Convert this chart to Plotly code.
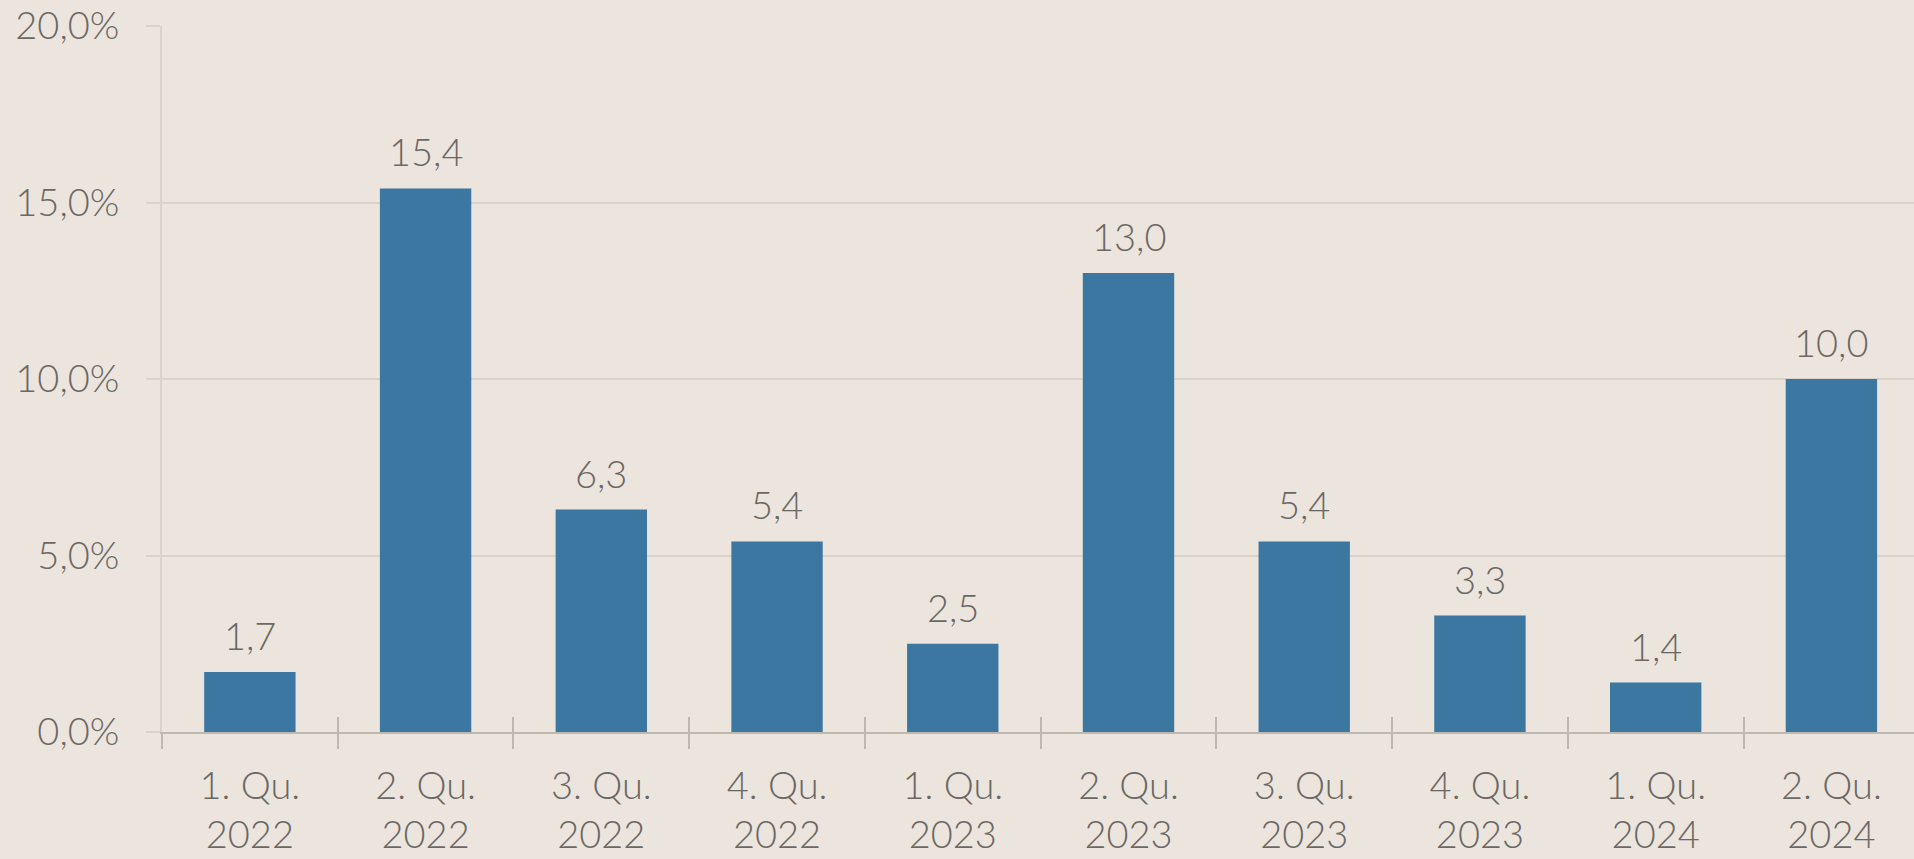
import plotly.graph_objects as go

quarters = ["1. Qu.", "2. Qu.", "3. Qu.", "4. Qu.", "1. Qu.", "2. Qu.", "3. Qu.", "4. Qu.", "1. Qu.", "2. Qu."]
years = ["2022", "2022", "2022", "2022", "2023", "2023", "2023", "2023", "2024", "2024"]
values = [1.7, 15.4, 6.3, 5.4, 2.5, 13.0, 5.4, 3.3, 1.4, 10.0]
y_ticks = [0, 5, 10, 15, 20]
y_tick_labels = ["0,0%", "5,0%", "10,0%", "15,0%", "20,0%"]

categories = [f"{q}<br>{y}" for q, y in zip(quarters, years)]
labels = [f"{v:.1f}".replace(".", ",") for v in values]

BG = "#ebe5de"
BAR = "#3b77a0"
TXT = "#6b6864"
GRID = "#d9d3cc"
AX = "#bdb8b2"
FONT = dict(family="Lato, 'Open Sans', sans-serif", size=38, color=TXT, weight=300)

fig = go.Figure()
fig.add_trace(go.Bar(x=categories, y=values, marker=dict(color=BAR, line=dict(width=0)),
                     showlegend=False, hoverinfo="skip"))
# invisible trace on the overlay axis so its inner tick marks render
fig.add_trace(go.Scatter(x=categories, y=values, xaxis="x2", mode="markers",
                         marker=dict(opacity=0), showlegend=False, hoverinfo="skip"))

for c, v, t in zip(categories, values, labels):
    fig.add_annotation(x=c, y=v, text=t, showarrow=False, yanchor="bottom", yshift=12,
                       font=FONT)

x_range = [-0.5, 9.47]
fig.update_layout(
    width=1914, height=859,
    margin=dict(l=162, r=0, t=26, b=127),
    paper_bgcolor=BG, plot_bgcolor=BG,
    bargap=0.48,
    font=FONT,
    xaxis=dict(
        type="category", range=x_range, showgrid=False, showline=True, linecolor=AX, linewidth=2,
        ticks="outside", tickson="boundaries", ticklen=15, tickcolor=AX, tickwidth=2,
        tickfont=FONT, ticklabelstandoff=19,
    ),
    xaxis2=dict(
        type="category", range=x_range, overlaying="x", anchor="y", side="bottom",
        showgrid=False, showline=False, zeroline=False,
        ticks="inside", tickson="boundaries", ticklen=15, tickcolor=AX,
        tickwidth=2, showticklabels=False,
    ),
    yaxis=dict(
        range=[0, 20], tickvals=y_ticks, ticktext=y_tick_labels,
        showgrid=True, gridcolor=GRID, gridwidth=2, zeroline=False,
        showline=True, linecolor=GRID, linewidth=2,
        ticks="outside", ticklen=14, tickcolor=GRID, tickwidth=2,
        tickfont=FONT, ticklabelstandoff=19,
    ),
)
fig.write_html("out.html")
